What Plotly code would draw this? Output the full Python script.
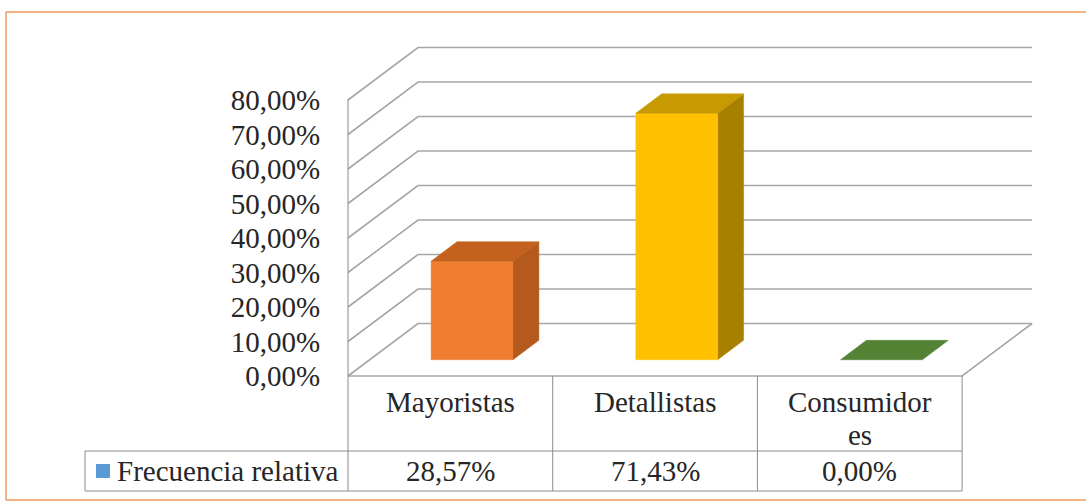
import plotly.graph_objects as go

# ---- data ----
categories = ["Mayoristas", "Detallistas", "Consumidores"]
frecuencia_relativa = [28.57, 71.43, 0.00]
series_name = "Frecuencia relativa"
tick_values = [0, 10, 20, 30, 40, 50, 60, 70, 80]

# ---- styling ----
front_colors = ["#EF7D2F", "#FFC000", "#548235"]
side_colors = ["#B45A1C", "#A88000", "#3E6427"]
top_colors = ["#C4611F", "#C69A00", "#4E7A30"]
grid_color = "#A6A6A6"
table_color = "#8C8C8C"
text_color = "#262626"
frame_color = "#F4B183"
FONT = "Liberation Serif, Times New Roman, serif"
FONT_SIZE = 29

W_PX = 1086
H_PX = 503
PX_PER_CAT = 204.7      # pixels per category column
PX_PER_PCT = 3.45       # pixels per percentage point
ORIGIN_X = 348          # front-left corner of the floor, in pixels
ORIGIN_Y = 376

# depth of the 3D box, expressed in axis units
DX = 70 / PX_PER_CAT
DY = 52.5 / PX_PER_PCT
# bar placement inside the depth and its half width (category units)
D_FRONT, D_BACK = 0.31, 0.68
HALF_W = 0.2

# table rows (axis units below the floor)
ROW1_BOTTOM = -(451 - ORIGIN_Y) / PX_PER_PCT
ROW2_BOTTOM = -(491 - ORIGIN_Y) / PX_PER_PCT
LEGEND_LEFT = (85 - ORIGIN_X) / PX_PER_CAT
WRAP_AT = 10            # characters that fit on one line of a table cell

x_range = [-ORIGIN_X / PX_PER_CAT, (W_PX - ORIGIN_X) / PX_PER_CAT]
y_range = [-(H_PX - ORIGIN_Y) / PX_PER_PCT, ORIGIN_Y / PX_PER_PCT]

n = len(categories)
fig = go.Figure()


def poly(xs, ys, color, line_color=None, width=0.5):
    fig.add_trace(go.Scatter(
        x=xs + [xs[0]], y=ys + [ys[0]], mode="lines", fill="toself",
        fillcolor=color, line=dict(color=line_color or color, width=width),
        hoverinfo="skip", showlegend=False))


def line(xs, ys, color=grid_color, width=1.6):
    fig.add_trace(go.Scatter(
        x=xs, y=ys, mode="lines", line=dict(color=color, width=width),
        hoverinfo="skip", showlegend=False))


# side wall diagonals + back wall gridlines
for v in tick_values:
    line([0, DX, n + DX], [v, v + DY, v + DY])
# floor front edge and right edge
line([0, n, n + DX], [0, 0, DY])

# 3D bars
for i, v in enumerate(frecuencia_relativa):
    c = i + 0.5
    xl_f, xr_f = c - HALF_W + D_FRONT * DX, c + HALF_W + D_FRONT * DX
    xl_b, xr_b = c - HALF_W + D_BACK * DX, c + HALF_W + D_BACK * DX
    yb_f, yb_b = D_FRONT * DY, D_BACK * DY
    if v > 0:
        poly([xr_f, xr_b, xr_b, xr_f], [yb_f, yb_b, v + yb_b, v + yb_f], side_colors[i])
        poly([xl_f, xr_f, xr_f, xl_f], [yb_f, yb_f, v + yb_f, v + yb_f], front_colors[i])
    poly([xl_f, xr_f, xr_b, xl_b], [v + yb_f, v + yb_f, v + yb_b, v + yb_b],
         top_colors[i] if v > 0 else front_colors[i])

# data table grid
line([0, 0], [max(tick_values) + 0.3, ROW2_BOTTOM], table_color, 1)
line([LEGEND_LEFT, n], [ROW1_BOTTOM, ROW1_BOTTOM], table_color, 1)
line([LEGEND_LEFT, n], [ROW2_BOTTOM, ROW2_BOTTOM], table_color, 1)
line([LEGEND_LEFT, LEGEND_LEFT], [ROW1_BOTTOM, ROW2_BOTTOM], table_color, 1)
for k in range(1, n + 1):
    line([k, k], [0, ROW2_BOTTOM], table_color, 1)

# legend key in the table
fig.add_trace(go.Scatter(
    x=[LEGEND_LEFT + 18 / PX_PER_CAT], y=[(ROW1_BOTTOM + ROW2_BOTTOM) / 2],
    mode="markers", marker=dict(symbol="square", size=14, color="#5B9BD5"),
    hoverinfo="skip", showlegend=False))

# anchor trace for the tick-label axis
fig.add_trace(go.Scatter(x=[0], y=[0], yaxis="y2", mode="markers",
                         marker=dict(opacity=0), hoverinfo="skip", showlegend=False))

annotations = []
label_y = -(402 - ORIGIN_Y) / PX_PER_PCT
line_step = 33 / PX_PER_PCT
value_y = (ROW1_BOTTOM + ROW2_BOTTOM) / 2
for i, (cat, v) in enumerate(zip(categories, frecuencia_relativa)):
    parts = [cat[:WRAP_AT], cat[WRAP_AT:]] if len(cat) > WRAP_AT + 1 else [cat]
    for j, part in enumerate(parts):
        annotations.append(dict(
            x=i + 0.5, y=label_y - j * line_step, text=part, showarrow=False,
            xanchor="center", yanchor="middle",
            font=dict(family=FONT, size=FONT_SIZE, color=text_color)))
    annotations.append(dict(
        x=i + 0.5, y=value_y, text=f"{v:.2f}%".replace(".", ","), showarrow=False,
        xanchor="center", yanchor="middle",
        font=dict(family=FONT, size=FONT_SIZE, color=text_color)))
annotations.append(dict(
    x=LEGEND_LEFT + 30 / PX_PER_CAT, y=value_y, text=series_name, showarrow=False,
    xanchor="left", yanchor="middle",
    font=dict(family=FONT, size=FONT_SIZE, color=text_color)))

# chart-area frame: top, left and bottom edges
frame = [
    dict(x0=6 / W_PX, x1=1, y0=1 - 12 / H_PX, y1=1 - 12 / H_PX),
    dict(x0=6 / W_PX, x1=6 / W_PX, y0=1 - 12 / H_PX, y1=1 - 500 / H_PX),
    dict(x0=6 / W_PX, x1=1, y0=1 - 500 / H_PX, y1=1 - 500 / H_PX),
]
shapes = [dict(type="line", xref="paper", yref="paper",
               line=dict(color=frame_color, width=2), layer="below", **f) for f in frame]

fig.update_layout(
    width=W_PX, height=H_PX,
    margin=dict(l=0, r=0, t=0, b=0),
    paper_bgcolor="white", plot_bgcolor="white",
    showlegend=False,
    font=dict(family=FONT),
    xaxis=dict(range=x_range, visible=False, fixedrange=True),
    yaxis=dict(range=y_range, visible=False, fixedrange=True),
    yaxis2=dict(
        range=y_range, overlaying="y", anchor="free", side="left",
        position=ORIGIN_X / W_PX, showgrid=False, zeroline=False, showline=False,
        tickvals=tick_values,
        ticktext=[f"{t:.2f}%".replace(".", ",") for t in tick_values],
        ticks="outside", ticklen=22, tickcolor="rgba(0,0,0,0)",
        tickfont=dict(family=FONT, size=FONT_SIZE, color=text_color),
        fixedrange=True),
    annotations=annotations,
    shapes=shapes,
)

fig.write_html("out.html")
